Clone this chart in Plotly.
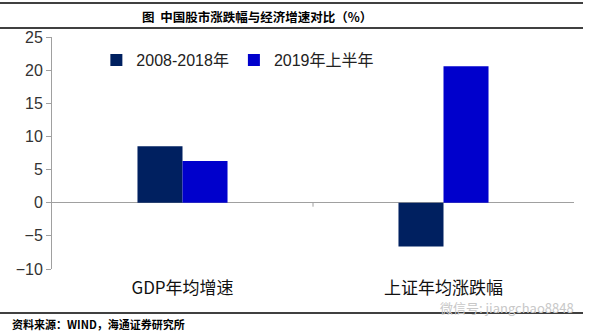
import plotly.graph_objects as go

categories = ["GDP年均增速", "上证年均涨跌幅"]
series_names = ["2008-2018年", "2019年上半年"]
values_2008_2018 = [8.5, -6.6]
values_2019h1 = [6.3, 20.6]
y_ticks = [-10, -5, 0, 5, 10, 15, 20, 25]

CJK = "Noto Sans CJK SC"
fig = go.Figure()
fig.add_bar(x=categories, y=values_2008_2018, name=series_names[0],
            marker=dict(color="#002060", line=dict(width=0)))
fig.add_bar(x=categories, y=values_2019h1, name=series_names[1],
            marker=dict(color="#0000CC", line=dict(width=0)))

fig.update_layout(
    width=591, height=334,
    margin=dict(l=52, r=17, t=37, b=65),
    paper_bgcolor="white", plot_bgcolor="white",
    barmode="group", bargap=0.655, bargroupgap=0,
    font=dict(family="Liberation Sans, " + CJK, color="#222"),
    showlegend=True,
    legend=dict(orientation="h", x=0.085, y=0.90, xanchor="left", yanchor="middle",
                font=dict(size=16, family="Liberation Sans, " + CJK, color="#222"),
                itemwidth=30, bgcolor="rgba(0,0,0,0)", traceorder="normal"),
    xaxis=dict(type="category", showline=False, showgrid=False, zeroline=False,
               ticks="", tickfont=dict(size=17, family=CJK, color="#111"),
               ticklabelstandoff=7),
    yaxis=dict(range=[-10, 25], tickvals=y_ticks, showgrid=False,
               showline=True, linecolor="#A0A0A0", linewidth=1,
               ticks="outside", ticklen=5, tickcolor="#A0A0A0",
               zeroline=True, zerolinecolor="#A0A0A0", zerolinewidth=1.2,
               tickfont=dict(size=16, family="Liberation Sans", color="#333")),
)

# category divider tick on zero line
fig.add_shape(type="line", xref="x", yref="y", x0=0.5, x1=0.5, y0=0, y1=-0.6,
              line=dict(color="#A0A0A0", width=1))

# header / footer rules
for ypix in (3, 28, 313):
    yp = (334 - 65 - ypix) / 232
    fig.add_shape(type="line", xref="paper", yref="paper", x0=-52/522, x1=(583-52)/522,
                  y0=yp, y1=yp, line=dict(color="black", width=1.5))

fig.add_annotation(text="<b>图  中国股市涨跌幅与经济增速对比（%）</b>", xref="paper", yref="paper",
                   x=(257-52)/522, y=(334-65-16)/232, showarrow=False,
                   font=dict(size=12.5, family=CJK, color="black"), xanchor="center", yanchor="middle")
fig.add_annotation(text="<b>资料来源：WIND，海通证券研究所</b>", xref="paper", yref="paper",
                   x=(10-52)/522, y=(334-65-324)/232, showarrow=False,
                   font=dict(size=11, family=CJK, color="black"), xanchor="left", yanchor="middle")
fig.add_annotation(text="微信号: jiangchao8848", xref="paper", yref="paper",
                   x=(576-52)/522, y=(334-65-307)/232, showarrow=False,
                   font=dict(size=13, family=CJK, color="#C8C8C8"), xanchor="right", yanchor="middle")

fig.write_html("out.html")
